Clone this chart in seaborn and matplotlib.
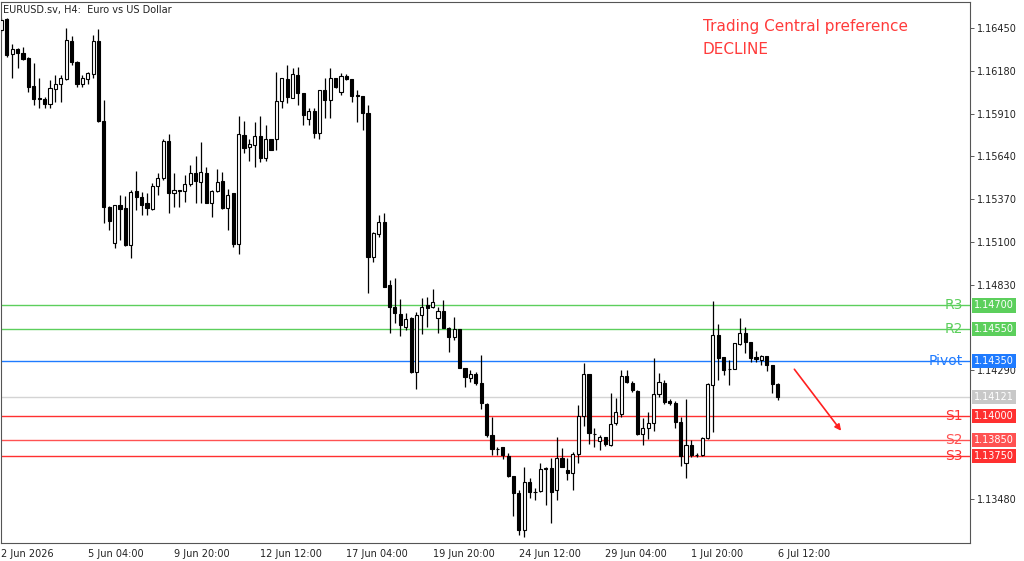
import numpy as np
import pandas as pd
import seaborn as sns
import matplotlib.pyplot as plt
from matplotlib.transforms import blended_transform_factory

# EURUSD H4 candles (2 Jun 12:00 .. 6 Jul 12:00)
opens = [1.16438, 1.16507, 1.16286, 1.16318, 1.16293, 1.16261, 1.16084, 1.16009, 1.16002, 1.15971,
         1.16065, 1.16097, 1.16128, 1.16368, 1.16236, 1.16097, 1.16128, 1.16160, 1.16368, 1.15864,
         1.15321, 1.15094, 1.15333, 1.15315, 1.15081, 1.15422, 1.15384, 1.15346, 1.15308, 1.15453,
         1.15504, 1.15737, 1.15409, 1.15428, 1.15422, 1.15466, 1.15535, 1.15479, 1.15535, 1.15346,
         1.15422, 1.15485, 1.15315, 1.15409, 1.15087, 1.15775, 1.15699, 1.15712, 1.15769, 1.15630,
         1.15750, 1.15750, 1.15990, 1.16128, 1.16009, 1.16154, 1.16040, 1.15876, 1.15927, 1.15788,
         1.16059, 1.15996, 1.16135, 1.16047, 1.16147, 1.16128, 1.16028, 1.16021, 1.15914, 1.15005,
         1.15150, 1.15226, 1.14829, 1.14690, 1.14646, 1.14564, 1.14620, 1.14280, 1.14639, 1.14702,
         1.14690, 1.14620, 1.14665, 1.14557, 1.14500, 1.14551, 1.14305, 1.14242, 1.14267, 1.14210,
         1.14078, 1.13882, 1.13794, 1.13806, 1.13750, 1.13623, 1.13516, 1.13283, 1.13586, 1.13522,
         1.13529, 1.13674, 1.13674, 1.13535, 1.13737, 1.13661, 1.13642, 1.13762, 1.14002, 1.14267,
         1.13888, 1.13844, 1.13870, 1.13819, 1.13958, 1.14015, 1.14254, 1.14210, 1.14160, 1.13888,
         1.13926, 1.13958, 1.14141, 1.14210, 1.14097, 1.14084, 1.13964, 1.13705, 1.13819, 1.13756,
         1.13756, 1.13863, 1.14198, 1.14513, 1.14374, 1.14299, 1.14299, 1.14456, 1.14526, 1.14469,
         1.14374, 1.14355, 1.14381, 1.14324, 1.14204]
highs = [1.16513, 1.16513, 1.16349, 1.16322, 1.16330, 1.16267, 1.16230, 1.16135, 1.16015, 1.16122,
         1.16154, 1.16154, 1.16450, 1.16400, 1.16240, 1.16154, 1.16173, 1.16406, 1.16444, 1.15996,
         1.15325, 1.15333, 1.15397, 1.15390, 1.15428, 1.15548, 1.15415, 1.15409, 1.15472, 1.15535,
         1.15750, 1.15781, 1.15535, 1.15430, 1.15523, 1.15586, 1.15643, 1.15731, 1.15573, 1.15428,
         1.15561, 1.15542, 1.15434, 1.15412, 1.15895, 1.15864, 1.15750, 1.15857, 1.15895, 1.15838,
         1.15752, 1.16173, 1.16135, 1.16217, 1.16198, 1.16204, 1.16042, 1.15946, 1.15946, 1.16059,
         1.16135, 1.16198, 1.16137, 1.16166, 1.16160, 1.16130, 1.16059, 1.16023, 1.15964, 1.15163,
         1.15270, 1.15283, 1.14860, 1.14873, 1.14740, 1.14652, 1.14627, 1.14658, 1.14747, 1.14753,
         1.14803, 1.14690, 1.14734, 1.14564, 1.14627, 1.14553, 1.14307, 1.14292, 1.14280, 1.14387,
         1.14084, 1.13996, 1.13806, 1.13808, 1.13769, 1.13625, 1.13535, 1.13680, 1.13611, 1.13548,
         1.13705, 1.13680, 1.13737, 1.13870, 1.13800, 1.13737, 1.13775, 1.14071, 1.14336, 1.14270,
         1.13926, 1.13882, 1.13872, 1.14147, 1.14116, 1.14292, 1.14292, 1.14223, 1.14166, 1.13989,
         1.14027, 1.14368, 1.14273, 1.14229, 1.14109, 1.14097, 1.13996, 1.14109, 1.13851, 1.13769,
         1.13870, 1.14210, 1.14728, 1.14583, 1.14376, 1.14355, 1.14463, 1.14620, 1.14564, 1.14471,
         1.14412, 1.14387, 1.14383, 1.14326, 1.14210]
lows = [1.16425, 1.16267, 1.16135, 1.16198, 1.16248, 1.16047, 1.15964, 1.15946, 1.15946, 1.15946,
        1.15983, 1.15983, 1.16122, 1.16217, 1.16078, 1.16078, 1.16097, 1.16135, 1.15857, 1.15220,
        1.15176, 1.15062, 1.15113, 1.15075, 1.14999, 1.15302, 1.15270, 1.15270, 1.15302, 1.15397,
        1.15491, 1.15283, 1.15321, 1.15321, 1.15352, 1.15453, 1.15346, 1.15346, 1.15346, 1.15258,
        1.15415, 1.15308, 1.15176, 1.15068, 1.15024, 1.15662, 1.15611, 1.15573, 1.15605, 1.15611,
        1.15680, 1.15680, 1.15946, 1.15977, 1.16009, 1.15964, 1.15838, 1.15838, 1.15756, 1.15750,
        1.15882, 1.15882, 1.16072, 1.16028, 1.16122, 1.15983, 1.15857, 1.15807, 1.14778, 1.14974,
        1.15131, 1.14816, 1.14526, 1.14589, 1.14507, 1.14545, 1.14273, 1.14172, 1.14519, 1.14564,
        1.14683, 1.14526, 1.14557, 1.14406, 1.14482, 1.14305, 1.14185, 1.14217, 1.14198, 1.14046,
        1.13870, 1.13756, 1.13756, 1.13731, 1.13617, 1.13371, 1.13251, 1.13239, 1.13485, 1.13472,
        1.13522, 1.13440, 1.13327, 1.13472, 1.13680, 1.13598, 1.13535, 1.13705, 1.13939, 1.13825,
        1.13806, 1.13787, 1.13813, 1.13813, 1.13945, 1.13996, 1.14210, 1.14153, 1.13882, 1.13819,
        1.13857, 1.13907, 1.14122, 1.14078, 1.14071, 1.13926, 1.13687, 1.13611, 1.13743, 1.13743,
        1.13750, 1.13860, 1.13901, 1.14229, 1.14261, 1.14198, 1.14297, 1.14450, 1.14400, 1.14343,
        1.14343, 1.14324, 1.14286, 1.14147, 1.14103]
closes = [1.16501, 1.16280, 1.16318, 1.16293, 1.16255, 1.16078, 1.16002, 1.16002, 1.15971, 1.16072,
          1.16097, 1.16135, 1.16375, 1.16236, 1.16097, 1.16135, 1.16166, 1.16368, 1.15864, 1.15321,
          1.15233, 1.15333, 1.15308, 1.15081, 1.15415, 1.15384, 1.15333, 1.15315, 1.15453, 1.15504,
          1.15737, 1.15409, 1.15428, 1.15422, 1.15466, 1.15535, 1.15485, 1.15542, 1.15346, 1.15422,
          1.15479, 1.15315, 1.15397, 1.15087, 1.15781, 1.15693, 1.15718, 1.15769, 1.15630, 1.15750,
          1.15680, 1.15990, 1.16135, 1.16015, 1.16160, 1.16040, 1.15901, 1.15927, 1.15788, 1.16059,
          1.15996, 1.16135, 1.16078, 1.16147, 1.16128, 1.16021, 1.16021, 1.15914, 1.15005, 1.15157,
          1.15226, 1.14816, 1.14690, 1.14652, 1.14576, 1.14614, 1.14280, 1.14639, 1.14690, 1.14683,
          1.14721, 1.14665, 1.14557, 1.14500, 1.14551, 1.14305, 1.14248, 1.14267, 1.14210, 1.14084,
          1.13882, 1.13794, 1.13792, 1.13756, 1.13623, 1.13516, 1.13283, 1.13586, 1.13522, 1.13520,
          1.13668, 1.13668, 1.13522, 1.13737, 1.13680, 1.13642, 1.13762, 1.14002, 1.14267, 1.13895,
          1.13886, 1.13870, 1.13825, 1.13952, 1.14027, 1.14254, 1.14217, 1.14166, 1.13888, 1.13926,
          1.13958, 1.14141, 1.14217, 1.14090, 1.14084, 1.13964, 1.13750, 1.13819, 1.13756, 1.13754,
          1.13863, 1.14204, 1.14513, 1.14368, 1.14292, 1.14297, 1.14463, 1.14526, 1.14469, 1.14368,
          1.14362, 1.14381, 1.14324, 1.14204, 1.14121]

level_names = ["R3", "R2", "Pivot", "S1", "S2", "S3"]
level_values = [1.14700, 1.14550, 1.14350, 1.14000, 1.13850, 1.13750]
level_colors = ["#5ccf5c", "#5ccf5c", "#1f7bff", "#ff3030", "#ff5252", "#ff3030"]
last_price = 1.14121

y_ticks = [1.16450, 1.16180, 1.15910, 1.15640, 1.15370, 1.15100, 1.14830, 1.14290, 1.13480]
x_tick_times = ["2026-06-02 12:00", "2026-06-05 04:00", "2026-06-09 20:00", "2026-06-12 12:00",
                "2026-06-17 04:00", "2026-06-19 20:00", "2026-06-24 12:00", "2026-06-29 04:00",
                "2026-07-01 20:00", "2026-07-06 12:00"]
x_tick_labels = ["2 Jun 2026", "5 Jun 04:00", "9 Jun 20:00", "12 Jun 12:00", "17 Jun 04:00",
                 "19 Jun 20:00", "24 Jun 12:00", "29 Jun 04:00", "1 Jul 20:00", "6 Jul 12:00"]

# H4 bar times, weekdays only
days = pd.bdate_range("2026-06-02", "2026-07-10")
times = [d + pd.Timedelta(hours=h) for d in days for h in range(0, 24, 4)]
times = [t for t in times if t >= pd.Timestamp(x_tick_times[0])][:len(opens)]

df = pd.DataFrame({"time": times, "open": opens, "high": highs, "low": lows, "close": closes})
df["bar"] = np.arange(len(df))
up = df["close"] >= df["open"]

sns.set_style("white")
plt.rcParams["font.family"] = ["DejaVu Sans"]

fig = plt.figure(figsize=(10.24, 5.61), dpi=100)
ax = fig.add_axes([1 / 1024, 18 / 561, 969 / 1024, 541 / 561])

# wicks then bodies
ax.vlines(df["bar"], df["low"], df["high"], color="black", lw=0.9, zorder=2)
body_bottom = np.minimum(df["open"], df["close"])
body_height = np.maximum((df["close"] - df["open"]).abs(), 0.00002)
ax.bar(df["bar"], body_height, bottom=body_bottom, width=0.58,
       color=np.where(up, "white", "black"), edgecolor="black", linewidth=0.8, zorder=3)

trans = blended_transform_factory(ax.transAxes, ax.transData)

ax.axhline(last_price, color="#d4d4d4", lw=1, zorder=1)
ax.text(1.004, last_price, f"{last_price:.5f}", transform=trans, ha="left", va="center",
        fontsize=7, color="white", clip_on=False,
        bbox=dict(boxstyle="square,pad=0.22", fc="#c8c8c8", ec="none"))

for name, val, col in zip(level_names, level_values, level_colors):
    ax.axhline(val, color=col, lw=1, zorder=1)
    ax.text(0.9925, val, name, transform=trans, ha="right", va="center",
            fontsize=10, color=col, zorder=4)
    ax.text(1.004, val, f"{val:.5f}", transform=trans, ha="left", va="center",
            fontsize=7, color="white", clip_on=False, zorder=5,
            bbox=dict(boxstyle="square,pad=0.22", fc=col, ec="none"))

ax.annotate("", xy=(156.1, 1.13895), xytext=(146.8, 1.14311),
            arrowprops=dict(arrowstyle="-|>", color="#ff2020", lw=1.2, mutation_scale=9))

ax.set_xlim(-0.09, 179.7)
ax.set_ylim(1.13201, 1.16614)

ax.yaxis.tick_right()
ax.set_yticks(y_ticks)
ax.set_yticklabels([f"{v:.5f}" for v in y_ticks])
tick_pos = [df.index[df["time"] == pd.Timestamp(t)][0] for t in x_tick_times]
ax.set_xticks(tick_pos)
ax.set_xticklabels(x_tick_labels)
for lab in ax.get_xticklabels():
    lab.set_ha("left")
ax.tick_params(axis="both", length=3, width=0.6, color="#404040", labelsize=7,
               labelcolor="#222222", pad=1.5)
ax.tick_params(axis="y", pad=2)
for sp in ax.spines.values():
    sp.set_color("#555555")
    sp.set_linewidth(0.8)

fig.text(3 / 1024, 1 - 10 / 561, "EURUSD.sv, H4:  Euro vs US Dollar", fontsize=7,
         va="center", color="#222222")
fig.text(703 / 1024, 1 - 27 / 561, "Trading Central preference", fontsize=11,
         va="center", color="#ff3b3b")
fig.text(703 / 1024, 1 - 49 / 561, "DECLINE", fontsize=11, va="center", color="#ff3b3b")

fig.savefig("out.png", dpi=100)
